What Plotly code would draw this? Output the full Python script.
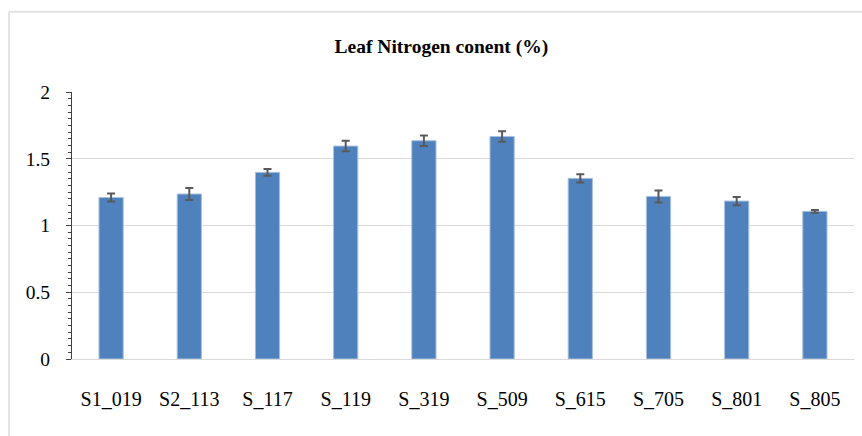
import plotly.graph_objects as go

categories = ["S1_019", "S2_113", "S_117", "S_119", "S_319", "S_509", "S_615", "S_705", "S_801", "S_805"]
nitrogen = [1.21, 1.236, 1.398, 1.595, 1.635, 1.667, 1.353, 1.218, 1.183, 1.106]
errors = [0.03, 0.045, 0.026, 0.039, 0.04, 0.039, 0.031, 0.045, 0.031, 0.01]
y_ticks = [0, 0.5, 1, 1.5, 2]
y_tick_labels = ["0", "0.5", "1", "1.5", "2"]
title_text = "<b>Leaf Nitrogen conent (%)</b>"

FONT = "Liberation Serif"

fig = go.Figure()
fig.add_trace(go.Bar(
    x=categories,
    y=nitrogen,
    marker=dict(color="#4F81BD", line=dict(color="#A9C1E0", width=1)),
    error_y=dict(type="data", array=errors, visible=True,
                 color="#595959", thickness=2, width=4),
))

fig.update_layout(
    width=862, height=436,
    margin=dict(l=72, r=8, t=92, b=77, autoexpand=False),
    paper_bgcolor="white", plot_bgcolor="white",
    showlegend=False,
    bargap=0.69,
    font=dict(family=FONT, color="black"),
    title=dict(text=title_text, x=0.512, xanchor="center", y=0.894, yanchor="middle",
               font=dict(family=FONT, size=19.5, color="black")),
    xaxis=dict(
        showline=True, linecolor="#d9d9d9", linewidth=1,
        ticks="", tickfont=dict(family=FONT, size=20, color="black"),
        ticklabelstandoff=22, showgrid=False, automargin=False,
    ),
    yaxis=dict(
        range=[0, 2], tickvals=y_ticks, ticktext=y_tick_labels,
        showline=True, linecolor="#404040", linewidth=1,
        ticks="outside", ticklen=5, tickcolor="#404040", tickwidth=1,
        minor=dict(dtick=0.05, ticks="outside", ticklen=3, tickcolor="#404040",
                   tickwidth=1, showgrid=False),
        showgrid=True, gridcolor="#d9d9d9", gridwidth=1,
        tickfont=dict(family=FONT, size=19.5, color="black"),
        ticklabelstandoff=12, zeroline=False, automargin=False,
    ),
    shapes=[
        dict(type="line", xref="paper", yref="paper",
             x0=-0.0806, x1=-0.0806, y0=1.3007, y1=-0.4,
             line=dict(color="#e3e3e3", width=2)),
        dict(type="line", xref="paper", yref="paper",
             x0=-0.0806, x1=1.1, y0=1.3007, y1=1.3007,
             line=dict(color="#e3e3e3", width=2)),
    ],
)

fig.write_html("out.html",
               config={"displayModeBar": False},
               post_script="document.body.style.margin='0';document.body.style.padding='0';")
